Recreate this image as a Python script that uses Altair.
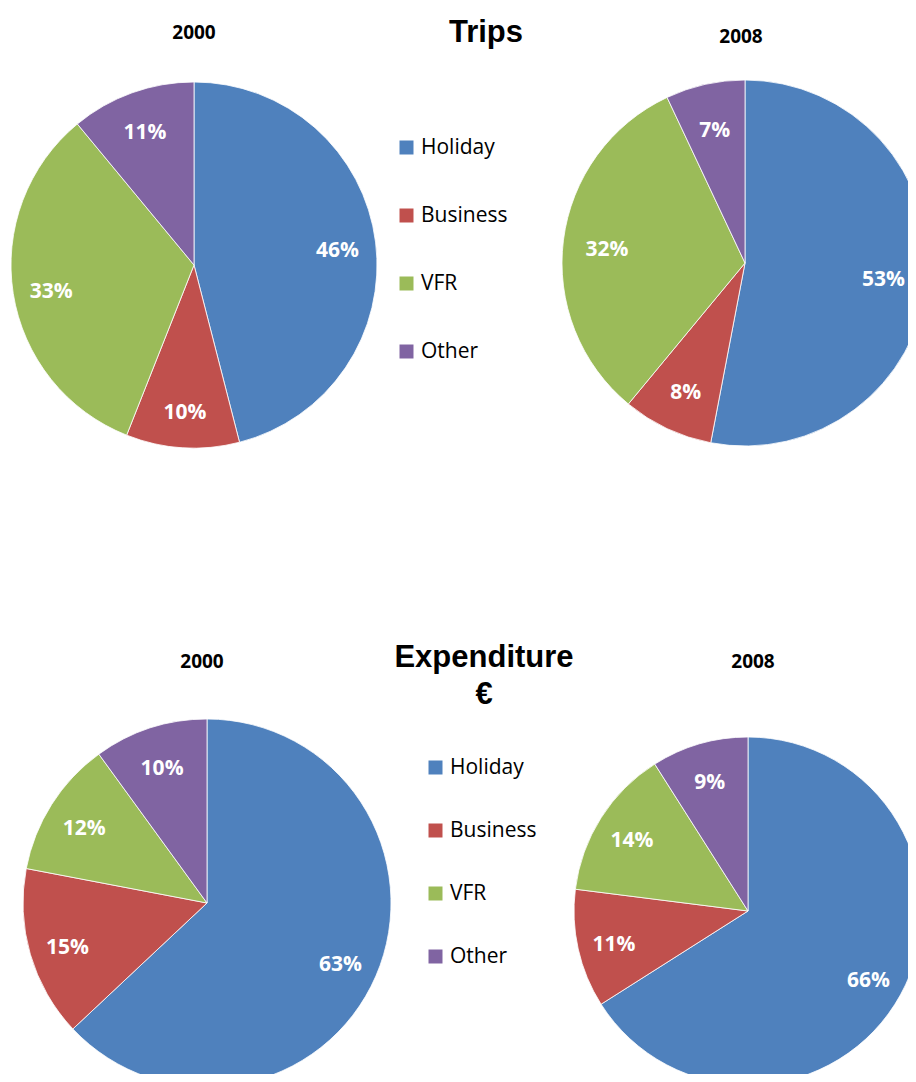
import altair as alt
import pandas as pd

categories = ["Holiday", "Business", "VFR", "Other"]
trips_2000 = [46, 10, 33, 11]
trips_2008 = [53, 8, 32, 7]
exp_2000 = [63, 15, 12, 10]
exp_2008 = [66, 11, 14, 9]
colors = ["#4F81BD", "#C0504D", "#9BBB59", "#8064A2"]

W, H = 900, 1066
LABEL_FONT = "Open Sans"
TITLE_FONT = "Liberation Sans"


def frame(values, field):
    return pd.DataFrame({
        field: categories,
        "value": values,
        "order": list(range(len(values))),
        "label": [f"{v}%" for v in values],
    })


def legend(lx, ly, row_pad):
    return alt.Legend(
        title=None, orient="none", legendX=lx, legendY=ly, direction="vertical",
        symbolType="square", symbolSize=196, symbolStrokeWidth=0,
        labelFont=LABEL_FONT, labelFontSize=21, labelColor="black",
        rowPadding=row_pad, labelOffset=4, padding=0, symbolOpacity=1,
    )


def pie(values, cx, cy, r, channel, leg, label_frac=0.79):
    field = "cat" if channel == "color" else "cat2"
    df = frame(values, field)
    base = alt.Chart(df)
    enc = dict(
        theta=alt.Theta("value:Q", stack=True),
        order=alt.Order("order:Q"),
        x=alt.value(cx), y=alt.value(cy),
    )
    if channel == "color":
        col = alt.Color(f"{field}:N", scale=alt.Scale(domain=categories, range=colors),
                        sort=categories, legend=leg)
        arc = base.mark_arc(radius=r, stroke="white", strokeWidth=0.8).encode(color=col, **enc)
    else:
        col = alt.Fill(f"{field}:N", scale=alt.Scale(range=colors),
                       sort=categories, legend=leg)
        arc = base.mark_arc(radius=r, stroke="white", strokeWidth=0.8).encode(fill=col, **enc)
    txt = base.mark_text(radius=label_frac * r, font=LABEL_FONT, fontSize=21, fontWeight="bold",
                         color="white", align="center", baseline="middle", dy=4).encode(
        text="label:N", **enc)
    return [arc, txt]


def title(text, x, y, size, font, weight="bold"):
    return alt.Chart(pd.DataFrame({"t": [text]})).mark_text(
        font=font, fontSize=size, fontWeight=weight, color="black",
        align="center", baseline="alphabetic").encode(
        text="t:N", x=alt.value(x), y=alt.value(y))


layers = []
layers += pie(trips_2000, 186, 257, 183, "color", legend(388, 129, 46))
layers += pie(trips_2008, 737, 255, 183, "color", None, 0.76)
layers += pie(exp_2000, 199, 895, 184, "fill", legend(417, 749, 41))
layers += pie(exp_2008, 740, 903, 174, "fill", None)

layers += [
    title("2000", 186, 31, 19, LABEL_FONT),
    title("Trips", 478, 34, 31, TITLE_FONT),
    title("2008", 733, 35, 19, LABEL_FONT),
    title("2000", 194, 660, 19, LABEL_FONT),
    title("Expenditure", 476, 659, 31, TITLE_FONT),
    title("€", 476, 696, 31, TITLE_FONT),
    title("2008", 745, 660, 19, LABEL_FONT),
]

chart = alt.layer(*layers).properties(
    width=W, height=H, padding=0,
    autosize=alt.AutoSizeParams(type="none"),
).resolve_scale(
    theta="shared"
).configure_view(stroke=None)

chart.save("out.html", embed_options={"renderer": "svg", "actions": False})
